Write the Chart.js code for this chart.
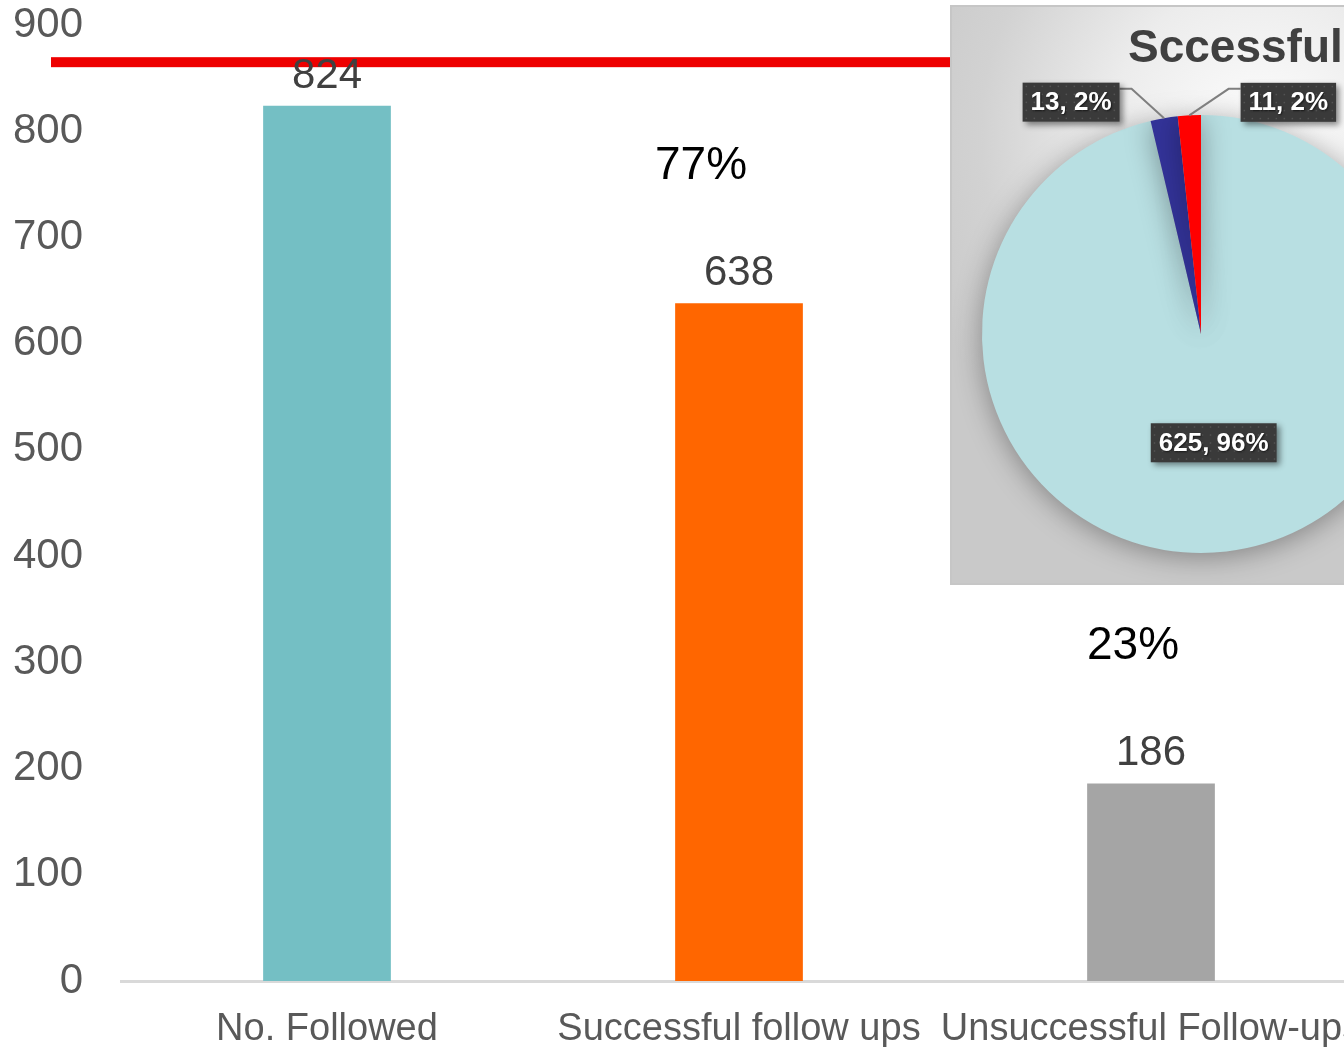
<!DOCTYPE html>
<html>
<head>
<meta charset="utf-8">
<script src="https://cdn.jsdelivr.net/npm/chart.js@4.4.0/dist/chart.umd.min.js"></script>
<style>
  html, body { margin: 0; padding: 0; width: 1344px; height: 1047px; overflow: hidden; background: #fff; }
  #barWrap { position: absolute; left: 0; top: 0; }
  #pieBox {
    position: absolute; left: 950px; top: 5px; width: 500px; height: 580px;
    box-sizing: border-box; border: 2px solid #c6c6c6;
    background: radial-gradient(ellipse 75% 65% at 62% 22%, #fdfdfd 0%, #ececec 40%, #d2d2d2 75%, #c9c9c9 100%);
  }
  #pieBox canvas { position: absolute; left: 0; top: 0; }
</style>
</head>
<body>
<div id="barWrap"><canvas id="barChartCanvas" width="1360" height="1047"></canvas></div>
<div id="pieBox"><canvas id="pieChartCanvas" width="496" height="576"></canvas></div>
<script>
// bar chart data
const categories = ["No. Followed", "Successful follow ups", "Unsuccessful Follow-ups"];
const counts = [824, 638, 186];
const targetLine = 865;

// inset pie data
const pieTitle = "Sccessful Follow-ups";
const pieValues = [625, 13, 11];

const barColors = ["#74bfc4", "#ff6600", "#a5a5a5"];
const pieColors = ["#b8dfe2", "#333399", "#ff0000"];

Chart.defaults.font.family = "'Liberation Sans', Arial, sans-serif";

const barCtx = document.getElementById("barChartCanvas").getContext("2d");
const pieCtx = document.getElementById("pieChartCanvas").getContext("2d");

// share of followed cases, drawn above bars 2 and 3
const pctOffsetX = [0, -38, -18];

const barOverlay = {
  id: "barOverlay",
  afterDatasetsDraw(chart) {
    const ctx = chart.ctx;
    const y = chart.scales.y;
    const meta = chart.getDatasetMeta(0);
    ctx.save();
    // red reference line
    const ly = y.getPixelForValue(targetLine);
    ctx.fillStyle = "#ee0000";
    ctx.fillRect(chart.chartArea.left - 70, ly - 5, chart.width, 10);

    ctx.textAlign = "center";
    ctx.textBaseline = "alphabetic";
    meta.data.forEach((bar, i) => {
      ctx.fillStyle = "#404040";
      ctx.font = "42px 'Liberation Sans', Arial, sans-serif";
      ctx.fillText(String(counts[i]), bar.x, bar.y - 18);
      if (i > 0) {
        const pct = Math.round(counts[i] / counts[0] * 100) + "%";
        ctx.fillStyle = "#000";
        ctx.font = "46px 'Liberation Sans', Arial, sans-serif";
        ctx.fillText(pct, bar.x + pctOffsetX[i], bar.y - 140 + 16);
      }
    });
    ctx.restore();
  },
};

new Chart(barCtx, {
  type: "bar",
  data: {
    labels: categories,
    datasets: [
      {
        data: counts,
        backgroundColor: barColors,
        barPercentage: 0.31,
        categoryPercentage: 1,
      },
    ],
  },
  options: {
    responsive: false,
    animation: false,
    layout: { padding: { top: 25, right: 3, left: 0, bottom: 0 } },
    scales: {
      x: {
        grid: { display: false, drawTicks: false },
        border: { color: "#d9d9d9", width: 3 },
        ticks: { color: "#595959", font: { size: 38 }, padding: 26, maxRotation: 0, autoSkip: false },
        afterFit(s) { s.height = 66; s.paddingLeft = 0; s.paddingRight = 0; },
      },
      y: {
        min: 0,
        max: 900,
        ticks: { stepSize: 100, color: "#595959", font: { size: 42 }, padding: 38 },
        grid: { display: false, drawTicks: false },
        border: { display: false },
        afterFit(s) { s.width = 121; s.paddingTop = 0; s.paddingBottom = 0; },
      },
    },
    plugins: { legend: { display: false }, tooltip: { enabled: false } },
  },
  plugins: [barOverlay],
});

// label boxes for the pie
function drawTag(ctx, text, cx, cy) {
  ctx.font = "bold 26px 'Liberation Sans', Arial, sans-serif";
  const w = ctx.measureText(text).width + 16;
  const h = 39;
  const x = cx - w / 2, yy = cy - h / 2;
  ctx.save();
  ctx.shadowColor = "rgba(0,0,0,0.45)";
  ctx.shadowBlur = 6;
  ctx.shadowOffsetX = 3;
  ctx.shadowOffsetY = 3;
  ctx.fillStyle = "#3a3a3a";
  ctx.fillRect(x, yy, w, h);
  ctx.restore();
  ctx.fillStyle = "rgba(255,255,255,0.13)";
  for (let i = x + 3; i < x + w; i += 8) {
    for (let j = yy + 3; j < yy + h; j += 8) ctx.fillRect(i, j, 1.5, 1.5);
  }
  ctx.save();
  ctx.shadowColor = "rgba(0,0,0,0.6)";
  ctx.shadowBlur = 2;
  ctx.shadowOffsetX = 1;
  ctx.shadowOffsetY = 1;
  ctx.fillStyle = "#fff";
  ctx.textAlign = "center";
  ctx.textBaseline = "middle";
  ctx.fillText(text, cx, cy + 1);
  ctx.restore();
}

const tagOffsets = [null, [-93, -16], [99, -13]];

const pieOverlay = {
  id: "pieOverlay",
  beforeDatasetsDraw(chart) {
    const ctx = chart.ctx;
    ctx.save();
    ctx.shadowColor = "rgba(0,0,0,0.35)";
    ctx.shadowBlur = 28;
    ctx.shadowOffsetX = 0;
    ctx.shadowOffsetY = 4;
  },
  afterDatasetsDraw(chart) {
    const ctx = chart.ctx;
    ctx.restore();
    ctx.save();
    // title
    ctx.fillStyle = "#404040";
    ctx.font = "bold 46px 'Liberation Sans', Arial, sans-serif";
    ctx.textAlign = "left";
    ctx.textBaseline = "alphabetic";
    ctx.fillText(pieTitle, 176, 55);

    const total = pieValues.reduce((a, b) => a + b, 0);
    const meta = chart.getDatasetMeta(0);
    meta.data.forEach((arc, i) => {
      const text = pieValues[i] + ", " + Math.round(pieValues[i] / total * 100) + "%";
      if (!tagOffsets[i]) {
        const p = arc.tooltipPosition();
        drawTag(ctx, text, p.x, p.y);
        return;
      }
      const mid = (arc.startAngle + arc.endAngle) / 2;
      const ax = arc.x + Math.cos(mid) * arc.outerRadius;
      const ay = arc.y + Math.sin(mid) * arc.outerRadius;
      const cx = ax + tagOffsets[i][0], cy = ay + tagOffsets[i][1];
      ctx.font = "bold 26px 'Liberation Sans', Arial, sans-serif";
      const w = ctx.measureText(text).width + 16;
      const left = tagOffsets[i][0] < 0;
      const edgeX = left ? cx + w / 2 : cx - w / 2;
      const elbowX = left ? edgeX + 12 : edgeX - 12;
      const elbowY = cy - 19.5 + 6;
      ctx.strokeStyle = "#7f7f7f";
      ctx.lineWidth = 2;
      ctx.beginPath();
      ctx.moveTo(ax, ay);
      ctx.lineTo(elbowX, elbowY);
      ctx.lineTo(edgeX, elbowY);
      ctx.stroke();
      drawTag(ctx, text, cx, cy);
    });
    ctx.restore();
  },
};

new Chart(pieCtx, {
  type: "pie",
  data: {
    datasets: [
      {
        data: pieValues,
        backgroundColor: pieColors,
        borderWidth: 0,
        hoverOffset: 0,
      },
    ],
  },
  options: {
    responsive: false,
    animation: false,
    layout: { padding: { left: 30, right: 28, top: 108, bottom: 30 } },
    plugins: { legend: { display: false }, tooltip: { enabled: false } },
  },
  plugins: [pieOverlay],
});
</script>
</body>
</html>
